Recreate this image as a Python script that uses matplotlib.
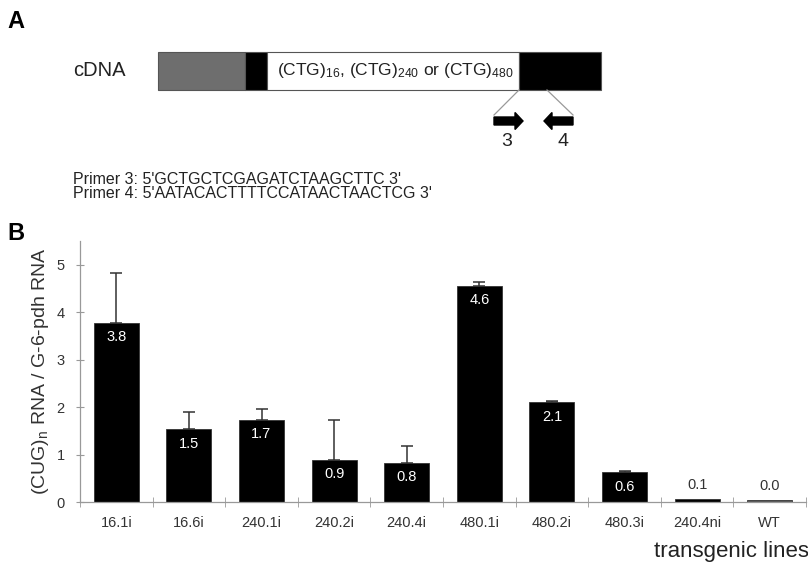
import numpy as np
import matplotlib
matplotlib.use('Agg')
import matplotlib.pyplot as plt
from matplotlib.patches import Rectangle, FancyArrow

plt.rcParams['font.family'] = ['Liberation Sans', 'DejaVu Sans']
plt.rcParams['mathtext.fontset'] = 'custom'
plt.rcParams['mathtext.rm'] = 'Liberation Sans'
plt.rcParams['mathtext.it'] = 'Liberation Sans:italic'

# data for panel B
lines = ['16.1i', '16.6i', '240.1i', '240.2i', '240.4i',
         '480.1i', '480.2i', '480.3i', '240.4ni', 'WT']
ratio = [3.78, 1.53, 1.73, 0.89, 0.83, 4.56, 2.10, 0.63, 0.06, 0.035]
err_up = [1.04, 0.36, 0.23, 0.83, 0.36, 0.07, 0.03, 0.02, 0.0, 0.0]
value_labels = ['3.8', '1.5', '1.7', '0.9', '0.8', '4.6', '2.1', '0.6', '0.1', '0.0']
bar_colors = ['black'] * 9 + ['#555555']

# text for panel A
primer3 = "Primer 3: 5'GCTGCTCGAGATCTAAGCTTC 3'"
primer4 = "Primer 4: 5'AATACACTTTTCCATAACTAACTCG 3'"
repeat_text = r'(CTG)$_{16}$, (CTG)$_{240}$ or (CTG)$_{480}$'

W, H = 808, 565
fig = plt.figure(figsize=(W / 100, H / 100), dpi=100)

# ---------- panel A: drawn in pixel coords on an overlay axes ----------
ov = fig.add_axes([0, 0, 1, 1])
ov.set_xlim(0, W)
ov.set_ylim(H, 0)
ov.axis('off')

txt_col = '#222222'
ov.text(7, 21, 'A', fontsize=17, fontweight='bold', va='center', ha='left', color='black')
ov.text(73, 71, 'cDNA', fontsize=14.5, va='center', ha='left', color=txt_col)

top, bot = 52, 90
segs = [(158, 245, '#6e6e6e'), (245, 267, 'black'), (267, 519, 'white'), (519, 601, 'black')]
for x0, x1, c in segs:
    ov.add_patch(Rectangle((x0, top), x1 - x0, bot - top, facecolor=c,
                           edgecolor='#555555', linewidth=0.8))
ov.text(277, 70, repeat_text, fontsize=12.5, va='center', ha='left', color=txt_col)

# zoom lines to primers
ov.plot([519, 494], [bot, 115], color='#999999', lw=0.9)
ov.plot([547, 573], [bot, 115], color='#999999', lw=0.9)
ov.add_patch(FancyArrow(494, 121, 29, 0, width=8, head_width=17, head_length=8,
                        length_includes_head=True, color='black'))
ov.add_patch(FancyArrow(573, 121, -29, 0, width=8, head_width=17, head_length=8,
                        length_includes_head=True, color='black'))
ov.text(507, 142, '3', fontsize=14, ha='center', va='center', color=txt_col)
ov.text(563, 142, '4', fontsize=14, ha='center', va='center', color=txt_col)

ov.text(73, 179, primer3, fontsize=11.5, ha='left', va='center', color=txt_col)
ov.text(73, 194, primer4, fontsize=11.5, ha='left', va='center', color=txt_col)

ov.text(7, 233, 'B', fontsize=17, fontweight='bold', va='center', ha='left', color='black')

# ---------- panel B: bar chart ----------
ax = fig.add_axes([80 / W, 63 / H, 726 / W, 261 / H])
x = np.arange(len(lines))
ax.bar(x, ratio, width=0.62, color=bar_colors, edgecolor='#333333', linewidth=0.6, zorder=2)
has_err = [e > 0 for e in err_up]
ax.errorbar(x[has_err], np.array(ratio)[has_err],
            yerr=[np.zeros(sum(has_err)), np.array(err_up)[has_err]],
            fmt='none', ecolor='#333333', elinewidth=1.1, capsize=4.5, capthick=1.1, zorder=1)

for xi, v, lab in zip(x, ratio, value_labels):
    if v > 0.3:
        ax.annotate(lab, (xi, v), xytext=(0, -10.5), textcoords='offset points',
                    ha='center', va='center', color='white', fontsize=10.5)
    else:
        ax.annotate(lab, (xi, v), xytext=(0, 10), textcoords='offset points',
                    ha='center', va='center', color='#333333', fontsize=10.5)

ax.set_xlim(-0.5, len(lines) - 0.5)
ax.set_ylim(0, 5.5)
ax.set_yticks([0, 1, 2, 3, 4, 5])
ax.set_xticks(x)
ax.set_xticklabels(lines)
ax.set_xticks(np.arange(len(lines) + 1) - 0.5, minor=True)
ax.tick_params(axis='x', which='major', length=0, pad=10, labelsize=10.5, labelcolor='#333333')
ax.tick_params(axis='x', which='minor', length=7, direction='inout', color='#999999')
ax.tick_params(axis='y', length=6, direction='inout', color='#999999', labelsize=10.5,
               labelcolor='#333333', pad=8)
for s in ['top', 'right']:
    ax.spines[s].set_visible(False)
for s in ['left', 'bottom']:
    ax.spines[s].set_color('#999999')
    ax.spines[s].set_linewidth(0.9)
ax.set_ylabel(r'(CUG)$_\mathrm{n}$ RNA / G-6-pdh RNA', fontsize=14, color='#333333', labelpad=4)

fig.text(809 / W, 1 - 551 / H, 'transgenic lines', fontsize=16, ha='right', va='center',
         color='#222222')

fig.savefig('out.png', dpi=100)
